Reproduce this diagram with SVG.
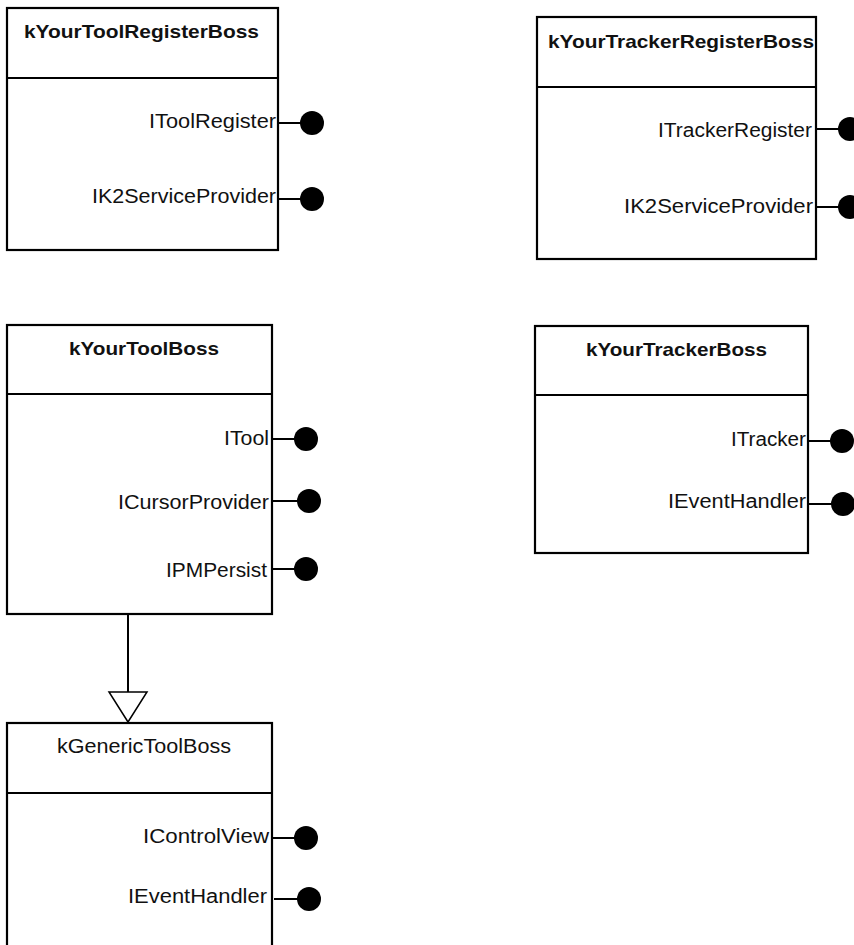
<svg xmlns="http://www.w3.org/2000/svg" width="854" height="945" viewBox="0 0 854 945">
  <style>
    .box { fill: #fff; stroke: #000; stroke-width: 2.2; }
    .div { stroke: #000; stroke-width: 2.2; }
    .stem { stroke: #000; stroke-width: 2; }
    .dot { fill: #000; }
    .title { font-family: "Liberation Sans", Arial, sans-serif; font-size: 19px; font-weight: bold; text-anchor: middle; fill: #111; }
    .title.plain { font-weight: normal; font-size: 20px; }
    .iface { font-family: "Liberation Sans", Arial, sans-serif; font-size: 20px; text-anchor: end; fill: #111; }
    .edge { stroke: #000; stroke-width: 2; fill: none; }
    .tri { fill: #fff; stroke: #000; stroke-width: 1.5; }
  </style>
  <rect width="854" height="945" fill="#fff"/>

  <!-- kYourToolRegisterBoss -->
  <g id="kYourToolRegisterBoss">
    <rect class="box" x="7" y="8" width="271" height="242"/>
    <line class="div" x1="7" y1="78" x2="278" y2="78"/>
    <text class="title" x="141.5" y="38" textLength="235" lengthAdjust="spacingAndGlyphs">kYourToolRegisterBoss</text>
    <text class="iface" x="276" y="128" textLength="127" lengthAdjust="spacingAndGlyphs">IToolRegister</text>
    <line class="stem" x1="278" y1="123" x2="302" y2="123"/>
    <circle class="dot" cx="312" cy="123" r="12"/>
    <text class="iface" x="276" y="203" textLength="184" lengthAdjust="spacingAndGlyphs">IK2ServiceProvider</text>
    <line class="stem" x1="278" y1="199" x2="302" y2="199"/>
    <circle class="dot" cx="312" cy="199" r="12"/>
  </g>

  <!-- kYourTrackerRegisterBoss -->
  <g id="kYourTrackerRegisterBoss">
    <rect class="box" x="537" y="17" width="279" height="242"/>
    <line class="div" x1="537" y1="87" x2="816" y2="87"/>
    <text class="title" x="681" y="48" textLength="266" lengthAdjust="spacingAndGlyphs">kYourTrackerRegisterBoss</text>
    <text class="iface" x="812" y="137" textLength="154" lengthAdjust="spacingAndGlyphs">ITrackerRegister</text>
    <line class="stem" x1="816" y1="129" x2="840" y2="129"/>
    <circle class="dot" cx="850" cy="129" r="12"/>
    <text class="iface" x="813" y="213" textLength="189" lengthAdjust="spacingAndGlyphs">IK2ServiceProvider</text>
    <line class="stem" x1="816" y1="207" x2="840" y2="207"/>
    <circle class="dot" cx="850" cy="207" r="12"/>
  </g>

  <!-- kYourToolBoss -->
  <g id="kYourToolBoss">
    <rect class="box" x="7" y="325" width="265" height="289"/>
    <line class="div" x1="7" y1="394" x2="272" y2="394"/>
    <text class="title" x="144" y="355" textLength="150" lengthAdjust="spacingAndGlyphs">kYourToolBoss</text>
    <text class="iface" x="269" y="445" textLength="45" lengthAdjust="spacingAndGlyphs">ITool</text>
    <line class="stem" x1="272" y1="439" x2="296" y2="439"/>
    <circle class="dot" cx="306" cy="439" r="12"/>
    <text class="iface" x="269" y="509" textLength="151" lengthAdjust="spacingAndGlyphs">ICursorProvider</text>
    <line class="stem" x1="272" y1="501" x2="299" y2="501"/>
    <circle class="dot" cx="309" cy="501" r="12"/>
    <text class="iface" x="267" y="577" textLength="101" lengthAdjust="spacingAndGlyphs">IPMPersist</text>
    <line class="stem" x1="272" y1="569" x2="296" y2="569"/>
    <circle class="dot" cx="306" cy="569" r="12"/>
  </g>

  <!-- kYourTrackerBoss -->
  <g id="kYourTrackerBoss">
    <rect class="box" x="535" y="326" width="273" height="227"/>
    <line class="div" x1="535" y1="395" x2="808" y2="395"/>
    <text class="title" x="676.5" y="356" textLength="181" lengthAdjust="spacingAndGlyphs">kYourTrackerBoss</text>
    <text class="iface" x="806" y="446" textLength="75" lengthAdjust="spacingAndGlyphs">ITracker</text>
    <line class="stem" x1="808" y1="441" x2="832" y2="441"/>
    <circle class="dot" cx="842" cy="441" r="12"/>
    <text class="iface" x="806" y="508" textLength="138" lengthAdjust="spacingAndGlyphs">IEventHandler</text>
    <line class="stem" x1="808" y1="504" x2="833" y2="504"/>
    <circle class="dot" cx="843" cy="504" r="12"/>
  </g>

  <!-- kGenericToolBoss (runs past the bottom edge) -->
  <g id="kGenericToolBoss">
    <rect class="box" x="7" y="723" width="265" height="240"/>
    <line class="div" x1="7" y1="793" x2="272" y2="793"/>
    <text class="title plain" x="144" y="753" textLength="174" lengthAdjust="spacingAndGlyphs">kGenericToolBoss</text>
    <text class="iface" x="269" y="843" textLength="126" lengthAdjust="spacingAndGlyphs">IControlView</text>
    <line class="stem" x1="272" y1="838" x2="296" y2="838"/>
    <circle class="dot" cx="306" cy="838" r="12"/>
    <text class="iface" x="267" y="903" textLength="139" lengthAdjust="spacingAndGlyphs">IEventHandler</text>
    <line class="stem" x1="274" y1="899" x2="299" y2="899"/>
    <circle class="dot" cx="309" cy="899" r="12"/>
  </g>

  <!-- inheritance: kYourToolBoss extends kGenericToolBoss -->
  <g id="connectors">
    <line class="edge" x1="128" y1="615" x2="128" y2="692"/>
    <polygon class="tri" points="109,692 147,692 128,722"/>
  </g>
</svg>
